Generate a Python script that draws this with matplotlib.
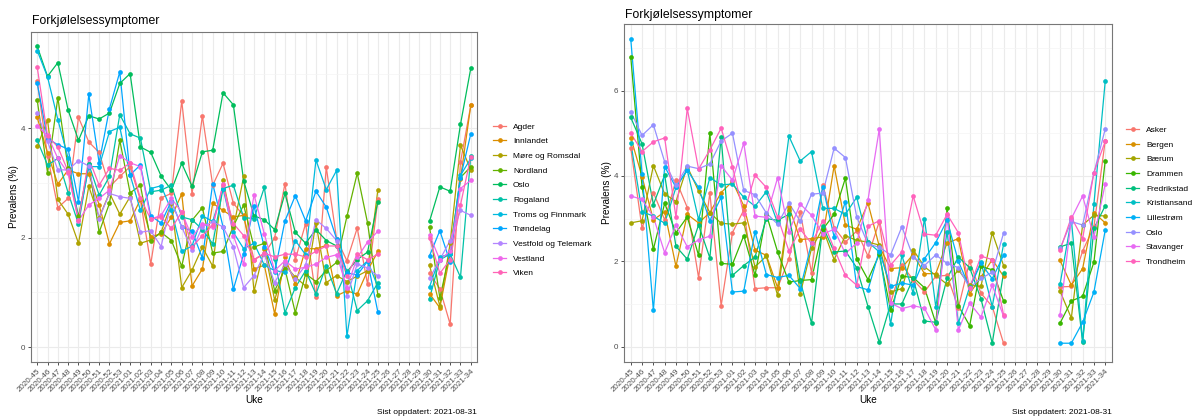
import numpy as np
import matplotlib
matplotlib.use("Agg")
import matplotlib.pyplot as plt

plt.rcParams['font.family'] = ['Liberation Sans', 'DejaVu Sans']

na = np.nan

# uke 2020-45 .. 2021-34 (ingen data 2021-26 .. 2021-29)
weeks = [f"2020-{w}" for w in range(45, 54)] + [f"2021-{w:02d}" for w in range(1, 35)]

# --- fylker (prevalens %) ---
agder = [4.86, 3.5, 2.55, 2.72, 4.2, 3.75, 3.56, 2.93, 3.12, 3.3,
         2.69, 1.52, 2.73, 2.81, 4.5, 2.8, 4.23, 2.96, 3.36, 2.63,
         2.4, 1.6, 1.7, 2.0, 2.99, 1.6, 2.26, 0.91, 3.29, 1.98,
         1.58, 2.18, 1.15, 2.7, na, na, na, na, 1.35, 1.07, 0.42, 3.38, 4.42]
innlandet = [4.2, 3.55, 2.98, 3.24, 3.17, 3.17, 2.6, 1.89, 2.28, 2.31,
             2.7, 2.02, 2.07, 2.38, 2.8, 1.12, 1.43, 2.63, 2.5, 2.38,
             2.41, 1.43, 1.5, 0.61, 1.64, 1.15, 1.8, 1.8, 1.86, 0.94,
             1.03, 0.97, 1.4, 1.75, na, na, na, na, 0.98, 0.72, 1.7, 3.08, 4.42]
more_romsdal = [3.67, 4.15, 2.7, 2.43, 1.9, 2.94, 2.37, 2.82, 2.43, 2.75,
                1.9, 1.96, 2.1, 2.63, 1.09, 1.41, 1.83, 1.48, 3.05, 2.17,
                3.12, 1.02, 1.8, 0.86, 1.5, 1.28, 1.12, 2.27, 1.18, 1.31,
                1.2, 1.3, 1.4, 2.88, na, na, na, na, 1.5, 0.75, 1.9, 3.69, 3.24]
nordland = [4.52, 3.19, 4.56, 3.27, 2.39, 3.34, 2.1, 2.63, 3.78, 2.82,
            2.96, 1.95, 2.1, 1.95, 1.48, 2.32, 2.55, 1.72, 1.75, 2.21,
            2.6, 1.83, 1.9, 1.03, 1.43, 0.63, 1.34, 1.2, 1.4, 1.55,
            2.39, 3.18, 2.27, 0.95, na, na, na, na, 2.2, 0.9, 1.75, 3.1, 3.3]
oslo = [5.5, 4.95, 5.2, 4.33, 3.78, 4.23, 4.17, 4.28, 4.82, 5.0,
        3.66, 3.56, 3.13, 2.87, 3.36, 2.94, 3.57, 3.6, 4.65, 4.43,
        3.04, 2.4, 2.33, 2.15, 2.81, 2.1, 1.9, 2.15, 1.95, 1.85,
        1.38, 1.6, 1.74, 2.66, na, na, na, na, 2.3, 2.93, 2.85, 4.07, 5.1]
rogaland = [3.78, 3.33, 3.45, 2.82, 2.25, 3.34, 2.78, 3.12, 4.25, 3.9,
            3.82, 2.84, 2.87, 2.96, 2.38, 2.33, 2.15, 1.89, 2.9, 2.96,
            2.37, 2.35, 2.92, 1.61, 0.63, 1.09, 1.4, 0.97, 1.49, 0.98,
            1.4, 0.67, 0.85, 1.18, na, na, na, na, 0.89, 1.6, 1.7, 1.28, 3.5]
troms = [5.42, 4.94, 4.16, 3.45, 2.33, 3.3, 3.3, 3.94, 4.02, 3.15,
         2.5, 2.9, 2.95, 2.5, 1.75, 1.85, 2.4, 2.3, 2.9, 2.1,
         1.8, 1.9, 1.5, 1.4, 1.37, 1.95, 1.69, 3.42, 2.88, 3.23,
         0.2, 1.4, 1.58, 1.1, na, na, na, na, 1.1, 1.65, 1.7, 3.14, 3.45]
trondelag = [4.83, 3.81, 3.7, 3.62, 2.66, 4.62, 3.37, 4.36, 5.03, 3.15,
             3.33, 2.4, 2.27, 2.67, 2.2, 2.12, 1.63, 2.99, 2.2, 1.06,
             1.7, 2.58, 1.83, 1.37, 2.31, 2.77, 2.31, 2.85, 2.56, 1.98,
             1.36, 1.32, 1.57, 0.64, na, na, na, na, 1.67, 2.13, 1.55, 3.1, 3.9]
vestfold = [4.28, 3.76, 3.24, 3.24, 3.41, 3.31, 2.35, 2.81, 2.75, 2.72,
            2.1, 2.13, 1.84, 2.66, 2.2, 1.77, 2.2, 2.29, 2.2, 1.83,
            1.09, 1.31, 1.7, 1.18, 1.52, 1.25, 1.5, 2.33, 2.17, 1.95,
            0.94, 1.52, 1.45, 1.3, na, na, na, na, 1.26, 1.6, 1.95, 2.5, 2.41]
vestland = [4.04, 3.87, 3.45, 3.18, 2.31, 2.6, 2.72, 2.87, 3.5, 3.37,
            3.3, 2.34, 2.41, 2.72, 2.47, 2.01, 2.26, 2.2, 2.98, 2.04,
            1.52, 2.79, 2.07, 1.4, 1.58, 1.43, 1.46, 1.52, 1.64, 1.69,
            1.09, 1.64, 1.92, 2.12, na, na, na, na, 2.05, 1.6, 1.75, 2.9, 3.05]
viken = [5.12, 3.86, 3.66, 3.21, 2.32, 3.45, 2.96, 3.27, 3.23, 3.37,
         2.72, 2.34, 2.38, 2.17, 2.47, 1.83, 2.04, 2.23, 2.96, 2.26,
         2.04, 1.6, 1.72, 1.65, 1.7, 1.7, 1.65, 1.75, 1.85, 1.85,
         1.3, 1.7, 1.6, 1.7, na, na, na, na, 2.0, 1.35, 1.6, 2.6, 3.48]

fylke_navn = ["Agder", "Innlandet", "Møre og Romsdal", "Nordland", "Oslo", "Rogaland",
              "Troms og Finnmark", "Trøndelag", "Vestfold og Telemark", "Vestland", "Viken"]
fylke_data = [agder, innlandet, more_romsdal, nordland, oslo, rogaland,
              troms, trondelag, vestfold, vestland, viken]

# --- kommuner (prevalens %) ---
asker = [4.65, 2.77, 3.61, 2.97, 3.9, 3.26, 1.62, 3.6, 0.96, 2.67,
         3.2, 1.36, 1.38, 1.38, 2.06, 3.16, 1.73, 3.79, 2.79, 2.45,
         2.71, 2.12, 2.93, 1.02, 1.91, 1.57, 1.28, 1.65, 1.67, 0.91,
         2.0, 1.25, 0.94, 0.08, na, na, na, na, 1.4, 1.41, 2.24, 2.81, 4.83]
bergen = [4.9, 3.98, 2.97, 3.16, 1.88, 3.1, 2.9, 3.14, 3.61, 3.87,
          3.3, 2.26, 2.14, 1.38, 3.28, 2.51, 2.53, 2.57, 4.24, 2.85,
          2.75, 3.36, 2.35, 1.83, 1.85, 2.16, 1.71, 1.71, 2.43, 2.53,
          1.24, 1.63, 2.04, 1.65, na, na, na, na, 2.02, 1.44, 1.83, 3.14, 2.9]
baerum = [2.9, 2.95, 4.24, 3.58, 3.4, 4.22, 3.65, 3.14, 2.89, 2.87,
          2.9, 1.87, 2.12, 1.2, 3.2, 1.24, 2.3, 2.77, 2.04, 2.6,
          2.49, 2.45, 2.38, 1.28, 1.36, 2.27, 1.87, 1.67, 1.46, 1.8,
          1.44, 1.41, 2.67, 1.9, na, na, na, na, 1.3, 0.67, 2.85, 3.08, 3.06]
drammen = [6.78, 3.73, 2.28, 3.36, 2.67, 3.04, 2.14, 5.0, 1.95, 1.93,
           2.6, 1.67, 3.1, 2.22, 1.51, 1.55, 1.57, 2.75, 3.1, 3.95,
           2.06, 1.57, 2.16, 0.86, 1.65, 1.62, 1.38, 0.55, 3.24, 0.96,
           0.49, 1.88, 1.8, 1.07, na, na, na, na, 0.55, 1.07, 1.18, 1.98, 4.36]
fredrikstad = [5.37, 4.75, 3.33, 4.02, 2.35, 2.05, 2.85, 2.08, 4.91, 1.67,
               1.9, 2.1, 3.0, 2.96, 3.1, 1.54, 0.55, 2.82, 2.22, 2.24,
               1.85, 0.94, 0.1, 1.0, 1.0, 1.6, 0.6, 0.57, 1.6, 2.1,
               1.85, 1.12, 0.08, 1.73, na, na, na, na, 2.34, 2.42, 0.1, 2.77, 3.3]
kristiansand = [4.78, 3.16, 3.06, 2.89, 3.73, 4.14, 2.98, 3.96, 3.79, 3.81,
                3.5, 3.29, 3.63, 2.9, 4.93, 4.35, 4.57, 3.24, 3.24, 3.1,
                3.5, 2.45, 2.22, 0.53, 2.14, 1.25, 3.0, 0.93, 2.69, 0.55,
                1.4, 1.98, 0.94, 2.4, na, na, na, na, 1.46, 2.98, 0.13, 3.34, 6.22]
lillestrom = [7.2, 4.05, 0.85, 4.22, 3.73, 4.14, 3.73, 2.95, 3.5, 1.28,
              1.3, 2.69, 1.69, 1.62, 1.67, 1.36, 2.42, 3.75, 2.57, 3.4,
              1.41, 1.33, 2.24, 1.41, 1.49, 1.44, 2.06, 2.44, 2.96, 2.0,
              1.38, 1.95, 1.59, 2.14, na, na, na, na, 0.08, 0.08, 0.57, 1.28, 2.73]
stavanger = [3.53, 3.45, 3.04, 2.2, 2.85, 2.34, 2.5, 2.59, 4.24, 3.9,
             4.77, 3.06, 3.03, 3.96, 2.69, 3.34, 3.08, 2.64, 2.75, 2.18,
             2.43, 3.44, 5.1, 1.02, 0.89, 0.96, 0.9, 0.39, 3.08, 0.39,
             1.02, 0.69, 1.44, 0.71, na, na, na, na, 0.75, 3.0, 3.53, 2.57, 3.81]
trondheim = [5.0, 4.57, 4.8, 4.89, 3.03, 5.58, 4.16, 4.61, 5.12, 4.22,
             3.1, 4.02, 3.73, 3.04, 2.24, 2.75, 2.42, 2.95, 2.3, 1.67,
             1.44, 2.82, 2.95, 1.91, 2.22, 3.53, 2.64, 2.61, 3.1, 2.67,
             1.38, 2.12, 2.04, 0.75, na, na, na, na, 2.26, 3.03, 2.53, 4.08, 4.81]

kommune_navn = ["Asker", "Bergen", "Bærum", "Drammen", "Fredrikstad", "Kristiansand",
                "Lillestrøm", "Oslo", "Stavanger", "Trondheim"]
kommune_data = [asker, bergen, baerum, drammen, fredrikstad, kristiansand,
                lillestrom, oslo, stavanger, trondheim]

# ggplot hue-farger
farger_11 = ["#F8766D", "#DB8E00", "#AEA200", "#64B200", "#00BD5C", "#00C1A7",
             "#00BADE", "#00A6FF", "#B385FF", "#EF67EB", "#FF63B6"]
farger_10 = ["#F8766D", "#D89000", "#A3A500", "#39B600", "#00BF7D", "#00BFC4",
             "#00B0F6", "#9590FF", "#E76BF3", "#FF62BC"]

W, H = 1193, 418
fig = plt.figure(figsize=(W / 100, H / 100), dpi=100)


def panel(rect, navn, data, farger, ylim, yticks, legend_x, legend_y):
    ax = fig.add_axes(rect)
    for serie, c in zip(data, farger):
        ax.plot(weeks, serie, color=c, lw=0.9, zorder=2)
    for serie, c in zip(data, farger):
        ax.plot(weeks, serie, color=c, lw=0, marker="o", ms=3.4, mec="none", zorder=3)
    ax.set_xlim(-0.6, len(weeks) - 0.4)
    ax.set_ylim(*ylim)
    ax.set_yticks(yticks)
    minor = [t + 1 for t in yticks if t + 1 < ylim[1]]
    ax.set_yticks(minor, minor=True)
    ax.grid(which="major", color="#EBEBEB", lw=0.8)
    ax.grid(which="minor", axis="y", color="#F4F4F4", lw=0.5)
    ax.set_axisbelow(True)
    for s in ax.spines.values():
        s.set_color("#777777")
        s.set_linewidth(0.8)
    ax.tick_params(which="major", length=2.5, width=0.6, color="#333333",
                   labelsize=5.8, labelcolor="#4D4D4D", pad=1.5)
    ax.tick_params(which="minor", length=0)
    plt.setp(ax.get_xticklabels(), rotation=45, ha="right", va="top",
             rotation_mode="anchor")
    handles = [plt.Line2D([], [], color=c, lw=0.9, marker="o", ms=3.4, mec="none")
               for c in farger]
    fig.legend(handles, navn, loc="center left", bbox_to_anchor=(legend_x, legend_y),
               frameon=False, fontsize=6, handlelength=1.6, handletextpad=0.8,
               labelspacing=0.82, borderpad=0, borderaxespad=0)
    return ax


ax1 = panel([31 / W, 1 - 362 / H, 446 / W, 330 / H], fylke_navn, fylke_data, farger_11,
            (-0.27, 5.76), [0, 2, 4], 493 / W, 1 - 200 / H)
ax2 = panel([624 / W, 1 - 362 / H, 488 / W, 338 / H], kommune_navn, kommune_data, farger_10,
            (-0.36, 7.56), [0, 2, 4, 6], 1126 / W, 1 - 196 / H)

# titler og tekster
fig.text(32 / W, 1 - 24 / H, "Forkjølelsessymptomer", fontsize=8.8, va="baseline")
fig.text(625 / W, 1 - 18 / H, "Forkjølelsessymptomer", fontsize=8.8, va="baseline")
fig.text(14 / W, 1 - 197 / H, "Prevalens (%)", fontsize=7.2, rotation=90, va="center", ha="center")
fig.text(607 / W, 1 - 193 / H, "Prevalens (%)", fontsize=7.2, rotation=90, va="center", ha="center")
fig.text(254 / W, 1 - 400 / H, "Uke", fontsize=7.2, va="center", ha="center")
fig.text(868 / W, 1 - 400 / H, "Uke", fontsize=7.2, va="center", ha="center")
fig.text(477 / W, 1 - 413 / H, "Sist oppdatert: 2021-08-31", fontsize=6, va="center", ha="right")
fig.text(1112 / W, 1 - 413 / H, "Sist oppdatert: 2021-08-31", fontsize=6, va="center", ha="right")

fig.savefig("out.png", dpi=100, facecolor="white")
